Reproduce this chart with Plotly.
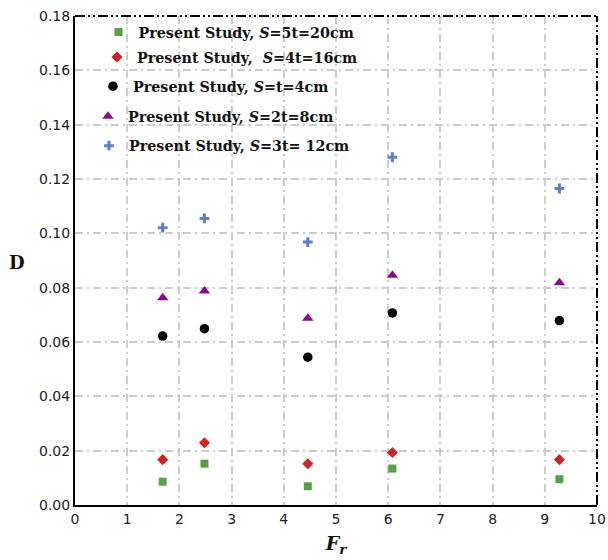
import plotly.graph_objects as go

# Froude number at each test run
fr = [1.68, 2.48, 4.46, 6.08, 9.28]

# Dimensionless D for each spacing configuration
d_s5t = [0.0086, 0.0152, 0.0069, 0.0134, 0.0095]
d_s4t = [0.0167, 0.0229, 0.0152, 0.0193, 0.0167]
d_st = [0.0622, 0.0649, 0.0544, 0.0707, 0.0679]
d_s2t = [0.0763, 0.0788, 0.0687, 0.0846, 0.0818]
d_s3t = [0.1021, 0.1055, 0.0968, 0.1280, 0.1165]

series_names = [
    "Present Study, <i>S</i>=5t=20cm",
    "Present Study,  <i>S</i>=4t=16cm",
    "Present Study, <i>S</i>=t=4cm",
    "Present Study, <i>S</i>=2t=8cm",
    "Present Study, <i>S</i>=3t= 12cm",
]
series_values = [d_s5t, d_s4t, d_st, d_s2t, d_s3t]
series_symbols = ["square", "diamond", "circle", "triangle-up", "cross-thin"]
series_colors = ["#56a046", "#d42020", "#000000", "#8b0a8b", "#5b7fd0"]
series_sizes = [8, 8.5, 9.5, 10, 7]

x_ticks = list(range(0, 11))
y_ticks = [0.00, 0.02, 0.04, 0.06, 0.08, 0.10, 0.12, 0.14, 0.16, 0.18]

W, H = 608, 560
ML, MR, MT, MB = 74.5, 11, 15.5, 55
PW, PH = W - ML - MR, H - MT - MB

# Individual legend boxes (pixel anchors inside the plot)
legend_left_px = [98.0, 96.5, 92.5, 87.5, 88.5]
legend_mid_px = [31.7, 56.7, 86.0, 116.0, 145.5]

fig = go.Figure()
for i, (name, vals, sym, col, sz) in enumerate(
    zip(series_names, series_values, series_symbols, series_colors, series_sizes)
):
    marker = dict(symbol=sym, color=col, size=sz, line=dict(width=0))
    if sym == "cross-thin":
        marker = dict(symbol=sym, size=sz, line=dict(color=col, width=3))
    fig.add_trace(
        go.Scatter(
            x=fr,
            y=vals,
            mode="markers",
            name=name,
            marker=marker,
            legend="legend" if i == 0 else f"legend{i + 1}",
        )
    )

legend_font = dict(family="DejaVu Serif", size=14.3, color="#111111", weight="bold")
legends = {}
for i in range(5):
    key = "legend" if i == 0 else f"legend{i + 1}"
    legends[key] = dict(
        x=(legend_left_px[i] - ML) / PW,
        y=(H - MB - legend_mid_px[i]) / PH,
        xanchor="left",
        yanchor="middle",
        bgcolor="rgba(0,0,0,0)",
        borderwidth=0,
        font=legend_font,
    )

grid_dash = "8px,4px,2px,4px"
border_dash = "10px,3px,2px,3px,2px,3px"
fig.update_layout(
    width=W,
    height=H,
    margin=dict(l=ML, r=MR, t=MT, b=MB, autoexpand=False),
    paper_bgcolor="white",
    plot_bgcolor="white",
    showlegend=True,
    **legends,
    xaxis=dict(
        range=[0, 10],
        tickvals=x_ticks,
        ticktext=[str(v) for v in x_ticks],
        showgrid=True,
        gridcolor="#cccccc",
        gridwidth=1.5,
        griddash=grid_dash,
        zeroline=False,
        showline=True,
        linecolor="black",
        linewidth=2,
        ticks="",
        automargin=False,
        tickfont=dict(family="DejaVu Sans", size=14, color="#222222"),
        title=dict(
            text="<b><i>F</i></b><sub><b><i>r</i></b></sub>",
            font=dict(family="DejaVu Serif", size=19, color="#111111"),
            standoff=11,
        ),
    ),
    yaxis=dict(
        range=[0, 0.18],
        tickvals=y_ticks,
        ticktext=[f"{v:.2f}" for v in y_ticks],
        showgrid=True,
        gridcolor="#cccccc",
        gridwidth=1.5,
        griddash=grid_dash,
        zeroline=False,
        showline=True,
        linecolor="black",
        linewidth=2,
        ticks="",
        automargin=False,
        tickfont=dict(family="DejaVu Sans", size=14, color="#222222"),
    ),
    annotations=[
        dict(
            text="<b>D</b>",
            xref="paper",
            yref="paper",
            x=(16 - ML) / PW,
            y=(H - MB - 262) / PH,
            xanchor="center",
            yanchor="middle",
            showarrow=False,
            font=dict(family="DejaVu Serif", size=18, color="#111111"),
        )
    ],
    shapes=[
        dict(
            type="line", xref="paper", yref="paper", x0=0, x1=1, y0=1, y1=1,
            line=dict(color="black", width=2, dash=border_dash),
        ),
        dict(
            type="line", xref="paper", yref="paper", x0=1, x1=1, y0=0, y1=1,
            line=dict(color="black", width=2, dash=border_dash),
        ),
    ],
)

fig.write_html("out.html")
